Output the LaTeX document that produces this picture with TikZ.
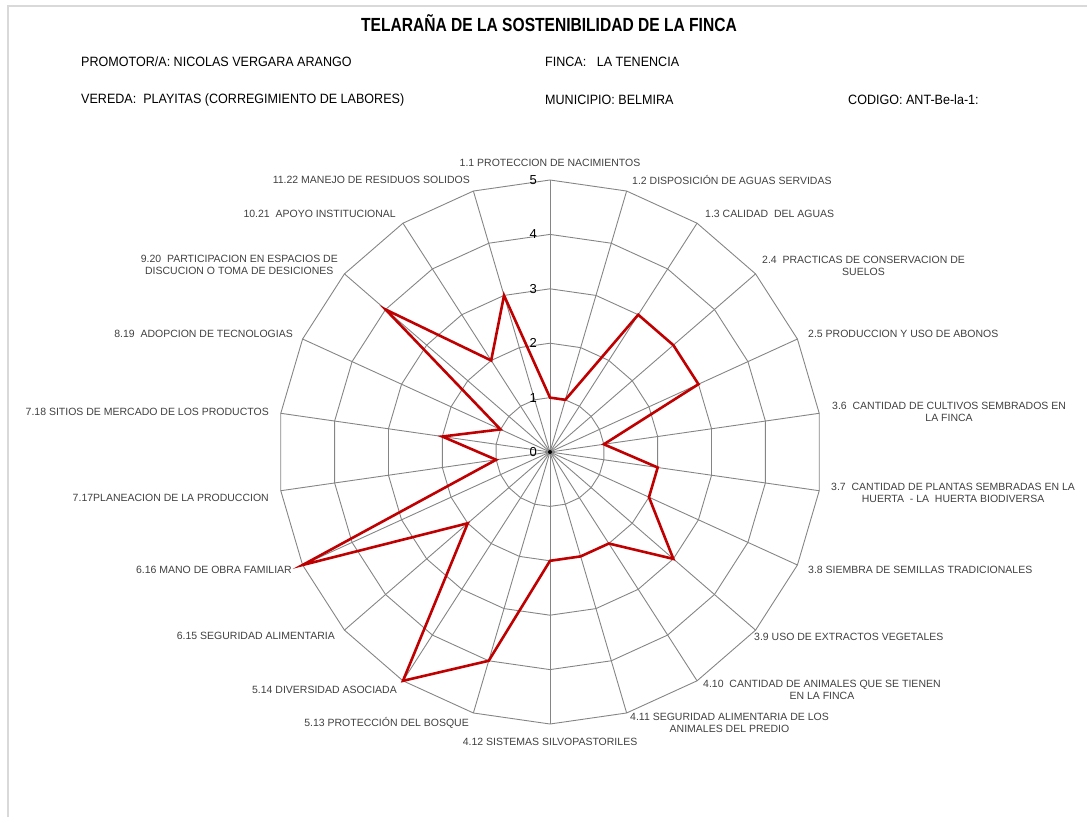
\documentclass[tikz,border=0pt]{standalone}
\usepackage{fontspec}
\usepackage{graphicx}
\setmainfont{Liberation Sans}
\definecolor{gridgray}{HTML}{858585}
\definecolor{datared}{HTML}{C00000}
\definecolor{labgray}{HTML}{404040}
\definecolor{bordergray}{HTML}{D9D9D9}
\newcommand{\nar}[1]{\scalebox{0.93}[1]{#1}}
\begin{document}
\begin{tikzpicture}[x=1pt,y=-1pt,
  grid/.style={draw=gridgray, line width=0.9pt},
  datapoly/.style={draw=datared, line width=2.6pt, line join=miter},
  lab/.style={font=\fontsize{10.5}{12.5}\selectfont, text=labgray, inner sep=0pt, align=center},
  hdr/.style={font=\fontsize{13.5}{15}\selectfont, inner sep=0pt, anchor=west},
  num/.style={font=\fontsize{13}{15}\selectfont, inner sep=0pt, anchor=east}]
\useasboundingbox (0,0) rectangle (1087,817);
\def\cx{550}
\def\cy{452}
\def\u{54.4}
% frame
\draw[draw=bordergray, line width=2pt] (8,817) -- (8,6) -- (1087,6);
% center
\coordinate (C) at (\cx,\cy);
% rings
\foreach \k in {1,...,5}{
  \draw[grid] ({\cx},{\cy-\k*\u}) \foreach \i in {1,...,21}{ -- ({\cx+\k*\u*sin(\i*360/22)},{\cy-\k*\u*cos(\i*360/22)})} -- cycle;
}
% spokes
\foreach \i in {0,...,21}{
  \coordinate (a\i) at ({\cx+5*\u*sin(\i*360/22)},{\cy-5*\u*cos(\i*360/22)});
  \draw[grid] (C) -- (a\i);
}
\fill[black] (C) circle (2);
% data
\foreach \v [count=\j from 0] in {1,1,3,3,3,1,2,2,3,2,2,2,4,5,2,5,1,2,1,4,2,3}{
  \coordinate (p\j) at ({\cx+\v*\u*sin(\j*360/22)},{\cy-\v*\u*cos(\j*360/22)});
}
\draw[datapoly] (p0) \foreach \j in {1,...,21}{ -- (p\j)} -- cycle;
% scale numbers
\foreach \k in {0,...,5}{
  \node[num] (n\k) at (537,{\cy-\k*\u}) {\k};
}
% title and header
\node[inner sep=0pt, font=\bfseries\fontsize{19}{21}\selectfont] (title) at (549,23) {\scalebox{0.82}[1]{TELARAÑA DE LA SOSTENIBILIDAD DE LA FINCA}};
\node[hdr] (h1) at (81,62) {\nar{PROMOTOR/A: NICOLAS VERGARA ARANGO}};
\node[hdr] (h2) at (545,62) {\nar{FINCA:\ \ \ LA TENENCIA}};
\node[hdr] (h3) at (81,100) {\nar{VEREDA:\ \ PLAYITAS (CORREGIMIENTO DE LABORES)}};
\node[hdr] (h4) at (545,100) {\nar{MUNICIPIO: BELMIRA}};
\node[hdr] (h5) at (848,100) {\nar{CODIGO: ANT-Be-la-1:}};
% axis labels
\node[lab] (l0) at (550,163) {1.1 PROTECCION DE NACIMIENTOS};
\node[lab, anchor=west] (l1) at (632,180) {1.2 DISPOSICIÓN DE AGUAS SERVIDAS};
\node[lab, anchor=west] (l2) at (705,214) {1.3 CALIDAD\ \ DEL AGUAS};
\node[lab, anchor=west] (l3) at (762,266) {2.4\ \ PRACTICAS DE CONSERVACION DE\\SUELOS};
\node[lab, anchor=west] (l4) at (808,334) {2.5 PRODUCCION Y USO DE ABONOS};
\node[lab, anchor=west] (l5) at (832,412) {3.6\ \ CANTIDAD DE CULTIVOS SEMBRADOS EN\\LA FINCA};
\node[lab, anchor=west] (l6) at (831,493) {3.7\ \ CANTIDAD DE PLANTAS SEMBRADAS EN LA\\HUERTA\ \ - LA\ \ HUERTA BIODIVERSA};
\node[lab, anchor=west] (l7) at (808,570) {3.8 SIEMBRA DE SEMILLAS TRADICIONALES};
\node[lab, anchor=west] (l8) at (754,637) {3.9 USO DE EXTRACTOS VEGETALES};
\node[lab, anchor=west] (l9) at (703,690) {4.10\ \ CANTIDAD DE ANIMALES QUE SE TIENEN\\EN LA FINCA};
\node[lab, anchor=west] (l10) at (630,723) {4.11 SEGURIDAD ALIMENTARIA DE LOS\\ANIMALES DEL PREDIO};
\node[lab] (l11) at (550,742) {4.12 SISTEMAS SILVOPASTORILES};
\node[lab, anchor=east] (l12) at (469,723) {5.13 PROTECCIÓN DEL BOSQUE};
\node[lab, anchor=east] (l13) at (397,690) {5.14 DIVERSIDAD ASOCIADA};
\node[lab, anchor=east] (l14) at (335,636) {6.15 SEGURIDAD ALIMENTARIA};
\node[lab, anchor=east] (l15) at (292,570) {6.16 MANO DE OBRA FAMILIAR};
\node[lab, anchor=east] (l16) at (269,498) {7.17PLANEACION DE LA PRODUCCION};
\node[lab, anchor=east] (l17) at (269,412) {7.18 SITIOS DE MERCADO DE LOS PRODUCTOS};
\node[lab, anchor=east] (l18) at (293,334) {8.19\ \ ADOPCION DE TECNOLOGIAS};
\node[lab, anchor=east] (l19) at (338,265) {9.20\ \ PARTICIPACION EN ESPACIOS DE\\DISCUCION O TOMA DE DESICIONES};
\node[lab, anchor=east] (l20) at (396,214) {10.21\ \ APOYO INSTITUCIONAL};
\node[lab, anchor=east] (l21) at (470,180) {11.22 MANEJO DE RESIDUOS SOLIDOS};
\end{tikzpicture}
\end{document}
